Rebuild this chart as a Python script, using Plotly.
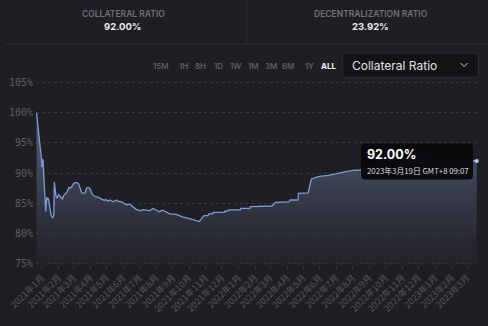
import plotly.graph_objects as go

# ---------------- data ----------------
dates = [
    "2020-12-22", "2020-12-26", "2020-12-29", "2020-12-31", "2021-01-01", "2021-01-03",
    "2021-01-05", "2021-01-06", "2021-01-08", "2021-01-10", "2021-01-11", "2021-01-13",
    "2021-01-15", "2021-01-18", "2021-01-21", "2021-01-23", "2021-01-24", "2021-01-27",
    "2021-01-29", "2021-02-01", "2021-02-04", "2021-02-08", "2021-02-10", "2021-02-14",
    "2021-02-17", "2021-02-20", "2021-02-23", "2021-02-26", "2021-03-01", "2021-03-04",
    "2021-03-07", "2021-03-10", "2021-03-13", "2021-03-16", "2021-03-19", "2021-03-22",
    "2021-03-25", "2021-03-28", "2021-04-01", "2021-04-04", "2021-04-07", "2021-04-13",
    "2021-04-19", "2021-04-25", "2021-05-01", "2021-05-04", "2021-05-07", "2021-05-13",
    "2021-05-20", "2021-05-23", "2021-05-26", "2021-06-01", "2021-06-07", "2021-06-13",
    "2021-06-19", "2021-06-25", "2021-07-02", "2021-07-08", "2021-07-14", "2021-07-20",
    "2021-07-26", "2021-08-01", "2021-08-07", "2021-08-13", "2021-08-20", "2021-08-26",
    "2021-09-07", "2021-09-19", "2021-10-02", "2021-10-14", "2021-10-20", "2021-10-26",
    "2021-10-29", "2021-11-05", "2021-11-07", "2021-11-14", "2021-11-15", "2021-12-06",
    "2021-12-07", "2021-12-13", "2021-12-14", "2022-01-04", "2022-01-05", "2022-01-22",
    "2022-01-23", "2022-03-04", "2022-03-10", "2022-04-04", "2022-04-07", "2022-04-21",
    "2022-04-22", "2022-05-10", "2022-05-15", "2022-05-16", "2022-05-26", "2022-06-01",
    "2022-06-16", "2022-07-01", "2022-07-17", "2022-08-01", "2022-08-16", "2022-09-10",
    "2022-09-22", "2022-09-28", "2022-12-29", "2023-01-05", "2023-03-01", "2023-03-19",
]
ratio = [
    100.0, 96.6, 95.2, 92.5, 91.0, 92.3,
    88.8, 87.0, 83.6, 86.0, 85.5, 85.8,
    84.4, 83.0, 82.5, 83.0, 88.5, 86.2,
    85.8, 86.4, 86.1, 85.6, 86.2, 86.6,
    86.9, 87.6, 87.5, 87.8, 88.3, 88.4,
    88.4, 88.2, 87.6, 86.7, 86.6, 86.7,
    87.5, 87.6, 87.3, 86.5, 86.2, 86.05,
    85.8, 85.5, 85.5, 85.3, 85.5, 85.2,
    85.5, 85.2, 85.3, 85.05, 84.7, 84.8,
    84.4, 83.95, 83.7, 83.9, 83.8, 83.7,
    84.1, 83.8, 83.55, 83.8, 83.4, 83.2,
    83.1, 82.7, 82.4, 82.0, 81.9, 82.6,
    82.9, 82.9, 83.2, 83.2, 83.45, 83.45,
    83.7, 83.7, 83.85, 83.85, 84.1, 84.1,
    84.4, 84.5, 85.1, 85.2, 85.5, 85.5,
    86.6, 86.7, 88.8, 89.0, 89.3, 89.45,
    89.6, 89.95, 90.2, 90.45, 90.5, 91.0,
    92.2, 93.2, 93.2, 92.2, 92.2, 92.0,
]

tick_dates = [
    "2021-01-01", "2021-02-01", "2021-03-01", "2021-04-01", "2021-05-01", "2021-06-01",
    "2021-07-01", "2021-08-01", "2021-09-01", "2021-10-01", "2021-11-01", "2021-12-01",
    "2022-01-01", "2022-02-01", "2022-03-01", "2022-04-01", "2022-05-01", "2022-06-01",
    "2022-07-01", "2022-08-01", "2022-09-01", "2022-10-01", "2022-11-01", "2022-12-01",
    "2023-01-01", "2023-02-01", "2023-03-01",
]
tick_labels = [
    "2021年1月", "2021年2月", "2021年3月", "2021年4月", "2021年5月", "2021年6月",
    "2021年7月", "2021年8月", "2021年9月", "2021年10月", "2021年11月", "2021年12月",
    "2022年1月", "2022年2月", "2022年3月", "2022年4月", "2022年5月", "2022年6月",
    "2022年7月", "2022年8月", "2022年9月", "2022年10月", "2022年11月", "2022年12月",
    "2023年1月", "2023年2月", "2023年3月",
]
y_ticks = [75, 80, 85, 90, 95, 100, 105]
y_tick_labels = ["75%", "80%", "85%", "90%", "95%", "100%", "105%"]

header_titles = ["COLLATERAL RATIO", "DECENTRALIZATION RATIO"]
header_values = ["92.00%", "23.92%"]
range_buttons = ["15M", "1H", "8H", "1D", "1W", "1M", "3M", "6M", "1Y", "ALL"]
selector_label = "Collateral Ratio"
tooltip_value = "92.00%"
tooltip_time = "2023年3月19日 GMT+8 09:07"

# ---------------- layout helpers ----------------
W, H = 488, 326
L, R, T, B = 32, 8, 78, 61
PW, PH = W - L - R, H - T - B
BG = "#1f1f23"


def px(x):
    return (x - L) / PW


def py(y):
    return (H - B - y) / PH


def rounded_rect(x0, y0, x1, y1, r):
    rx, ry = r / PW, r / PH
    a0, a1 = px(x0), px(x1)
    b0, b1 = py(y1), py(y0)  # b0 bottom, b1 top
    return (f"M {a0+rx},{b0} L {a1-rx},{b0} Q {a1},{b0} {a1},{b0+ry} "
            f"L {a1},{b1-ry} Q {a1},{b1} {a1-rx},{b1} L {a0+rx},{b1} "
            f"Q {a0},{b1} {a0},{b1-ry} L {a0},{b0+ry} Q {a0},{b0} {a0+rx},{b0} Z")


fig = go.Figure()
fig.add_trace(go.Scatter(
    x=dates, y=ratio, mode="lines",
    line=dict(color="#7b9bd8", width=1.3),
    fill="tozeroy",
    fillgradient=dict(type="vertical",
                      colorscale=[[0, "rgba(38,39,46,0.4)"],
                                  [0.5, "rgba(64,70,90,0.65)"],
                                  [1, "rgba(92,104,140,0.8)"]],
                      start=74.5, stop=96),
    hoverinfo="skip", showlegend=False,
))
fig.add_trace(go.Scatter(
    x=[dates[-1]], y=[ratio[-1]], mode="markers",
    marker=dict(size=4, color="#b4ccff"), hoverinfo="skip", showlegend=False,
))

shapes = []
annotations = []

# header separators
shapes.append(dict(type="line", xref="paper", yref="paper",
                   x0=px(0), x1=px(W), y0=py(44), y1=py(44),
                   line=dict(color="#2d2d32", width=1)))
shapes.append(dict(type="line", xref="paper", yref="paper",
                   x0=px(245), x1=px(245), y0=py(0), y1=py(44),
                   line=dict(color="#2d2d32", width=1)))

for cx, title, val in zip([120, 370], header_titles, header_values):
    annotations.append(dict(xref="paper", yref="paper", x=px(cx), y=py(14),
                            text=title, showarrow=False, xanchor="center", yanchor="middle",
                            font=dict(family="Inter", size=8.5, color="#707076", weight=600)))
    annotations.append(dict(xref="paper", yref="paper", x=px(cx), y=py(26.5),
                            text=val, showarrow=False, xanchor="center", yanchor="middle",
                            font=dict(family="Inter", size=9.5, color="#e8e8ea", weight=700)))

# range buttons
btn_x = [158.5, 181, 198, 216, 233.5, 251, 269, 286.5, 308, 327]
for bx, lab in zip(btn_x, range_buttons):
    is_all = lab == "ALL"
    annotations.append(dict(xref="paper", yref="paper", x=px(bx), y=py(66),
                            text=lab, showarrow=False, xanchor="center", yanchor="middle",
                            font=dict(family="Inter", size=8,
                                      color="#f0f0f0" if is_all else "#66666c",
                                      weight=700 if is_all else 500)))

# dropdown selector
shapes.append(dict(type="path", xref="paper", yref="paper",
                   path=rounded_rect(341.5, 53, 478.5, 77.5, 4),
                   fillcolor="#131316", line=dict(color="#2c2c31", width=1)))
annotations.append(dict(xref="paper", yref="paper", x=px(349), y=py(65.5),
                        text=selector_label, showarrow=False, xanchor="left", yanchor="middle",
                        font=dict(family="Inter", size=12, color="#e2e2e4")))
shapes.append(dict(type="path", xref="paper", yref="paper",
                   path=f"M {px(460.5)},{py(63)} L {px(464)},{py(66.5)} L {px(467.5)},{py(63)}",
                   line=dict(color="#cfcfd2", width=1)))

# tooltip
shapes.append(dict(type="path", xref="paper", yref="paper",
                   path=rounded_rect(360, 143.5, 473, 179.5, 4),
                   fillcolor="rgba(8,8,10,0.96)", line=dict(width=0)))
annotations.append(dict(xref="paper", yref="paper", x=px(364), y=py(154.5),
                        text=tooltip_value, showarrow=False, xanchor="left", yanchor="middle",
                        font=dict(family="Inter", size=12.5, color="#ffffff", weight=700)))
annotations.append(dict(xref="paper", yref="paper", x=px(364), y=py(170),
                        text=tooltip_time, showarrow=False, xanchor="left", yanchor="middle",
                        font=dict(family="Noto Sans CJK SC", size=7.8, color="#dcdcde")))

fig.update_layout(
    width=W, height=H,
    margin=dict(l=L, r=R, t=T, b=B),
    paper_bgcolor=BG, plot_bgcolor=BG,
    shapes=shapes, annotations=annotations,
    xaxis=dict(type="date", range=["2020-12-21", "2023-03-25"],
               tickmode="array", tickvals=tick_dates, ticktext=tick_labels,
               tickangle=-45, tickfont=dict(family="Noto Sans CJK SC", size=9, color="#56565c"),
               showgrid=False, zeroline=False, showline=False,
               ticks="outside", ticklen=3, tickcolor="#3a3a40"),
    yaxis=dict(range=[74.67, 105.83], tickmode="array", tickvals=y_ticks, ticktext=y_tick_labels,
               tickfont=dict(family="DejaVu Sans Mono", size=10, color="#5e5e64"),
               showgrid=True, gridcolor="#38383e", griddash="3px,3px", gridwidth=1,
               zeroline=False, showline=False, ticks="", ticklabelstandoff=2),
)

fig.write_html("out.html")
